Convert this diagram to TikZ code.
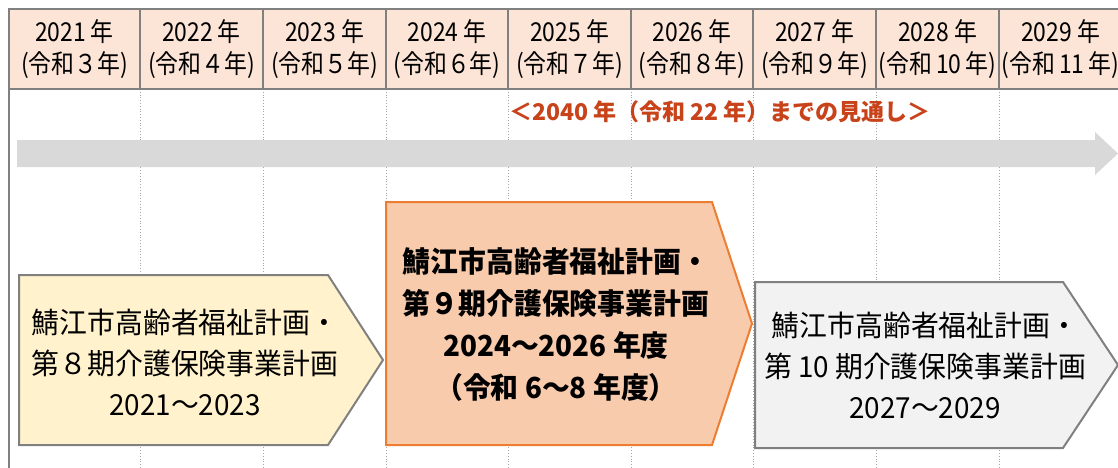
\documentclass[tikz,border=0pt]{standalone}
\usepackage{fontspec}
\setmainfont{Noto Sans CJK JP}
\newfontfamily\hdrfont[FakeStretch=0.88]{Noto Sans CJK JP}
\newfontfamily\boxfont[FakeStretch=0.96]{Noto Sans CJK JP}
\definecolor{hdrfill}{HTML}{FCE4D6}
\definecolor{gridgray}{HTML}{808080}
\definecolor{dotgray}{HTML}{A6A6A6}
\definecolor{arrowgray}{HTML}{D9D9D9}
\definecolor{yelfill}{HTML}{FFF2CC}
\definecolor{orfill}{HTML}{F8CBAD}
\definecolor{orline}{HTML}{ED7D31}
\definecolor{grfill}{HTML}{F2F2F2}
\definecolor{redtxt}{HTML}{C8421A}
\begin{document}
\begin{tikzpicture}[x=1pt,y=-1pt,
  hdr/.style={font=\hdrfont\fontsize{26}{32}\selectfont, align=center, inner sep=0pt},
  boxtxt/.style={font=\boxfont\fontsize{29}{41}\selectfont, align=center, inner sep=0pt},
  boxtxtb/.style={font=\boxfont\bfseries\fontsize{29}{42}\selectfont, align=center, inner sep=0pt},
  gridline/.style={draw=gridgray, line width=2pt},
  dotline/.style={draw=dotgray, line width=0.8pt, dotted},
  planbox/.style={line width=2pt, line join=miter},
]
\useasboundingbox (0,0) rectangle (1118,468);
\fill[white] (0,0) rectangle (1118,468);
% header band
\fill[hdrfill] (9,9) rectangle (1122,89);
% dotted column lines
\foreach \x in {140,263,386,508,631,753,876,999}{
  \draw[dotline] (\x,89) -- (\x,468);
}
% header grid
\draw[gridline] (9,9) -- (1122,9);
\draw[gridline] (9,89) -- (1122,89);
\draw[gridline] (9,8) -- (9,468);
\foreach \x in {140,263,386,508,631,753,876,999}{
  \draw[gridline] (\x,9) -- (\x,89);
}
% header texts
\node[hdr] (h1) at (74.5,49) {2021 年\\(令和３年)};
\node[hdr] (h2) at (201.5,49) {2022 年\\(令和４年)};
\node[hdr] (h3) at (324.5,49) {2023 年\\(令和５年)};
\node[hdr] (h4) at (447,49) {2024 年\\(令和６年)};
\node[hdr] (h5) at (569.5,49) {2025 年\\(令和７年)};
\node[hdr] (h6) at (692,49) {2026 年\\(令和８年)};
\node[hdr] (h7) at (814.5,49) {2027 年\\(令和９年)};
\node[hdr] (h8) at (937.5,49) {2028 年\\(令和\,10\,年)};
\node[hdr] (h9) at (1060.5,49) {2029 年\\(令和\,11\,年)};
% outlook label
\node[font=\bfseries\fontsize{23}{28}\selectfont, text=redtxt, inner sep=0pt] (note) at (720,112) {＜2040 年（令和 22 年）までの見通し＞};
% long gray arrow
\fill[arrowgray] (17,140) -- (1095,140) -- (1095,132) -- (1118,153.5) -- (1095,175) -- (1095,167) -- (17,167) -- cycle;
% plan boxes
\draw[planbox, fill=yelfill, draw=gridgray]
  (19,275) -- (328,275) -- (383,360) -- (328,445) -- (19,445) -- cycle;
\node[boxtxt] (p8) at (185,362) {鯖江市高齢者福祉計画・\\第８期介護保険事業計画\\2021～2023};
\draw[planbox, fill=orfill, draw=orline]
  (386,202) -- (712,202) -- (752,323.5) -- (712,445) -- (386,445) -- cycle;
\node[boxtxtb] (p9) at (556,324.5) {鯖江市高齢者福祉計画・\\第９期介護保険事業計画\\2024～2026 年度\\（令和 6～8 年度）};
\draw[planbox, fill=grfill, draw=gridgray]
  (755,282) -- (1063,282) -- (1118,365) -- (1063,448) -- (755,448) -- cycle;
\node[boxtxt] (p10) at (925,365) {鯖江市高齢者福祉計画・\\第 10 期介護保険事業計画\\2027～2029};
\end{tikzpicture}
\end{document}
